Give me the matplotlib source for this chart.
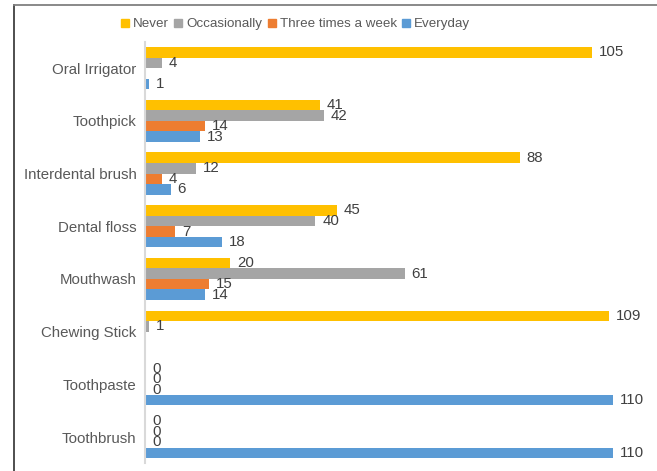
"""Grouped horizontal bar chart of oral hygiene aid usage frequency."""

import matplotlib.pyplot as plt
import numpy as np
from matplotlib.lines import Line2D

plt.rcParams['font.family'] = ['Liberation Sans', 'DejaVu Sans']

# Data
categories = ['Oral Irrigator', 'Toothpick', 'Interdental brush', 'Dental floss',
              'Mouthwash', 'Chewing Stick', 'Toothpaste', 'Toothbrush']
series_names = ['Never', 'Occasionally', 'Three times a week', 'Everyday']
never = [105, 41, 88, 45, 20, 109, 0, 0]
occasionally = [4, 42, 12, 40, 61, 1, 0, 0]
three_week = [np.nan, 14, 4, 7, 15, np.nan, 0, 0]
everyday = [1, 13, 6, 18, 14, np.nan, 110, 110]
colors = ['#FFC000', '#A5A5A5', '#ED7D31', '#5B9BD5']

fig = plt.figure(figsize=(6.57, 4.71), dpi=100)
ax = fig.add_axes([145 / 657, 7.6 / 471, 511 / 657, 421.6 / 471])

y = np.arange(len(categories))
width = 0.2
all_series = [never, occasionally, three_week, everyday]

for i, (name, vals, col) in enumerate(zip(series_names, all_series, colors)):
    pos = y + (i - 1.5) * width
    vals = np.array(vals, dtype=float)
    ok = ~np.isnan(vals)
    ax.barh(pos[ok], vals[ok], height=width, color=col, label=name)
    # Value labels
    for p, v in zip(pos[ok], vals[ok]):
        ax.annotate('{:d}'.format(int(v)), (v, p), xytext=(5, 0),
                    textcoords='offset points', va='center', ha='left',
                    fontsize=10.8, color='#404040')

ax.set_yticks(y)
ax.set_yticklabels(categories, fontsize=10.8, color='#595959')
ax.set_ylim(len(categories) - 0.5, -0.5)
ax.set_xlim(0, 120)
ax.set_xticks([])
ax.tick_params(axis='y', length=0, pad=6)
for side in ['top', 'right', 'bottom']:
    ax.spines[side].set_visible(False)
ax.spines['left'].set_color('#D9D9D9')
ax.spines['left'].set_linewidth(1.5)

# Legend
handles = [Line2D([], [], marker='s', linestyle='', markersize=5.5,
                  markerfacecolor=c, markeredgecolor=c) for c in colors]
fig.legend(handles, series_names, loc='center', bbox_to_anchor=(0.45, 0.949),
           ncol=4, frameon=False, fontsize=9.6, handlelength=0.6,
           handletextpad=0.3, columnspacing=0.4, labelcolor='#595959')

# Outer frame (partially visible)
fig.add_artist(Line2D([14 / 657, 14 / 657], [0, 1 - 5 / 471],
                      transform=fig.transFigure, color='#404040', lw=1.3))
fig.add_artist(Line2D([14 / 657, 1], [1 - 5 / 471, 1 - 5 / 471],
                      transform=fig.transFigure, color='#808080', lw=1.3))

fig.savefig('out.png', dpi=100)
